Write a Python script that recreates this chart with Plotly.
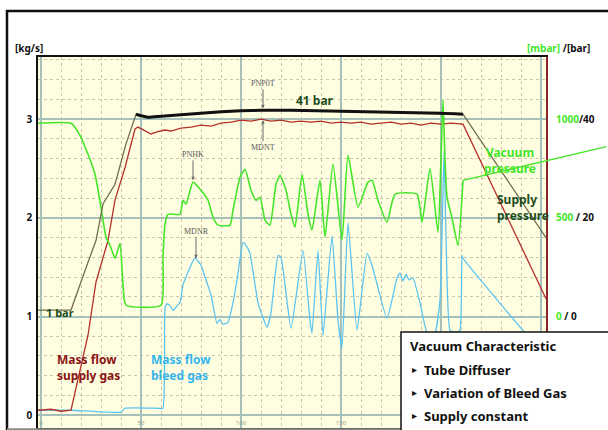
import plotly.graph_objects as go

# ---------------- data ----------------
# Supply pressure [bar]
sp_t = [-1.5, 15, 23.5, 27.5, 31, 37, 42.5, 47.5, 50, 53.5, 60, 70, 80, 90, 100, 110, 125, 150, 175, 200, 211, 252.5]
sp_bar = [1.3, 1.3, 11.0, 15.4, 22.8, 26.8, 35.0, 41.0, 40.7, 40.4, 40.6, 40.9, 41.2, 41.5, 41.7, 41.8, 41.8, 41.6, 41.4, 41.2, 41.0, 16.0]

# Mass flow supply gas [kg/s]
ms_t = [-1.5, 5, 10, 15, 23.5, 27.5, 33.5, 37, 42, 47, 48.5, 51, 55, 58, 62, 65, 70, 75, 80, 85, 90, 95,
        100, 105, 110, 115, 120, 125, 130, 135, 140, 145, 150, 155, 160, 165, 170, 175, 180, 185, 190,
        195, 200, 205, 211, 252.5]
ms_kgs = [0.05, 0.06, 0.04, 0.05, 0.81, 1.35, 1.77, 2.18, 2.51, 2.90, 2.92, 2.89, 2.85, 2.87, 2.89, 2.88,
          2.91, 2.92, 2.94, 2.93, 2.96, 2.97, 2.99, 2.98, 3.00, 2.98, 2.99, 2.97, 2.98, 2.97, 2.98, 2.96,
          2.97, 2.96, 2.97, 2.95, 2.96, 2.97, 2.95, 2.96, 2.94, 2.96, 2.95, 2.96, 2.95, 1.18]

# Vacuum pressure [mbar]
vp_t = [-1.5, 15, 19.5, 23.5, 27, 30, 32.5, 34.5, 37, 39.5, 41, 42.5, 60, 61, 62, 63.5, 69.5, 71, 72.5,
        76, 80, 83.5, 86, 88.5, 94.5, 96, 99.5, 102, 105, 107.5, 109.5, 112, 114.5, 117.5, 119.5, 122.5,
        125, 127, 130.5, 133.5, 135.5, 139.5, 142, 146, 150.5, 153.5, 158.5, 163.5, 165.5, 168.5, 173,
        177, 188, 190.5, 194.5, 198.5, 200, 201, 202, 203, 205.5, 208.5, 211]
vp_mbar = [979, 979, 918, 822, 721, 554, 402, 361, 295, 371, 159, 57, 57, 300, 468, 518, 518, 589, 569,
           681, 640, 589, 503, 463, 463, 539, 706, 746, 640, 589, 604, 488, 463, 670, 716, 640,
           518, 452, 721, 518, 438, 690, 402, 772, 387, 817, 554, 681, 690, 589, 478,
           620, 620, 478, 750, 427, 800, 1100, 800, 605, 500, 360, 690]

# Mass flow bleed gas [kg/s]
mb_t = [-1.5, 15, 40, 42, 58.5, 61, 62, 63, 64.5, 66, 67, 68.5, 69.5, 71, 73.5, 75, 77, 78.5, 80, 82,
        85, 88, 89.5, 91, 93.5, 96, 98, 101, 102.5, 104.5, 108.5, 113, 115, 118.5, 120, 125, 131,
        134.5, 135.5, 138.5, 141, 145.5, 148.5, 150.5, 153.5, 158, 163, 165.5, 173, 178, 179.5, 181,
        182.5, 184, 186, 189.5, 193, 197, 199.5, 200.5, 201.5, 202.5, 204.5, 207.5, 209.5, 210.5,
        211, 252.5]
mb_kgs = [0.05, 0.05, 0.03, 0.07, 0.07, 0.07, 1.09, 1.13, 1.11, 1.06, 1.08, 1.12, 1.14, 1.32, 1.45,
          1.52, 1.60, 1.56, 1.52, 1.40, 1.22, 0.93, 0.97, 0.92, 0.94, 1.14, 1.37, 1.75, 1.72, 1.64,
          1.14, 0.89, 1.04, 1.62, 1.60, 0.88, 1.67, 0.96, 0.83, 1.67, 0.81, 1.82, 0.96, 0.68, 1.95,
          0.86, 1.64, 1.52, 0.98, 1.39, 1.44, 1.36, 1.43, 1.37, 1.39, 1.14, 0.84, 0.84, 1.17, 1.82,
          2.68, 1.82, 0.86, 0.84, 0.86, 1.62, 1.59, 0.58]

left_ticks = [0, 1, 2, 3]
right_mbar = [0, 500, 1000]
right_bar = [0, 20, 40]
x_ticks = [0, 50, 100, 150, 200, 250]
x_ticktext = ["0", "50", "100", "150", "", ""]

# ---------------- styling helpers ----------------
X0, X1, Y0, Y1 = 38, 546, 57, 428   # plot area in pixels


def px(x, y):
    return (x - X0) / (X1 - X0), (Y1 - y) / (Y1 - Y0)


GREEN = "#45e62a"
BLUE = "#5cc4f2"
RED = "#b3302b"
DKGREEN = "#1e4d1e"
FONT = "Noto Sans"

fig = go.Figure()

fig.add_trace(go.Scatter(x=vp_t, y=vp_mbar, yaxis="y2", mode="lines",
                         line=dict(color=GREEN, width=1.6, shape="spline", smoothing=0.5)))
fig.add_trace(go.Scatter(x=mb_t, y=mb_kgs, yaxis="y", mode="lines",
                         line=dict(color=BLUE, width=1.3, shape="spline", smoothing=0.4)))
fig.add_trace(go.Scatter(x=ms_t, y=ms_kgs, yaxis="y", mode="lines",
                         line=dict(color=RED, width=1.3)))
fig.add_trace(go.Scatter(x=sp_t, y=sp_bar, yaxis="y3", mode="lines",
                         line=dict(color="#6f6f4c", width=1.3)))
fig.add_trace(go.Scatter(x=sp_t[7:21], y=sp_bar[7:21], yaxis="y3", mode="lines",
                         line=dict(color="#111111", width=3, shape="spline", smoothing=0.6)))

grid_major = "#a6c0bc"
grid_minor = "#c8c8b0"

ticktext_r = [f'<span style="color:{GREEN}">{m}</span>{" / " if m < 1000 else "/"}{b}'
              for m, b in zip(right_mbar, right_bar)]

fig.update_layout(
    width=608, height=430,
    margin=dict(l=X0, r=608 - X1, t=Y0, b=430 - Y1),
    paper_bgcolor="white",
    plot_bgcolor="#fffee0",
    showlegend=False,
    font=dict(family=FONT),
    xaxis=dict(range=[-1.5, 252.5], tickmode="array", tickvals=x_ticks, ticktext=x_ticktext,
               showgrid=True, gridcolor=grid_major, gridwidth=1.5, zeroline=False,
               minor=dict(dtick=10, tick0=0, showgrid=True, gridcolor=grid_minor,
                          griddash="dot", gridwidth=1),
               ticklabelposition="inside", ticks="",
               tickfont=dict(size=6, color="#9a9a8a"),
               showline=True, linecolor="#111", linewidth=1.5, mirror=True),
    yaxis=dict(range=[-0.13, 3.63], tick0=0, dtick=1, showgrid=True,
               gridcolor=grid_major, gridwidth=1.5, zeroline=False,
               minor=dict(dtick=0.2, tick0=0, showgrid=True, gridcolor=grid_minor,
                          griddash="dot", gridwidth=1),
               tickvals=left_ticks, ticks="",
               tickfont=dict(size=10, color="#111", family=FONT, weight="bold"),
               showline=True, linecolor="#111", linewidth=1.5, ticklabelstandoff=2),
    yaxis2=dict(range=[-565, 1315], overlaying="y", side="right", showgrid=False,
                zeroline=False, tickvals=right_mbar, ticktext=ticktext_r, ticks="",
                tickfont=dict(size=10, color="#111", family=FONT, weight="bold"),
                showline=True, linecolor="#8b2525", linewidth=2, ticklabelstandoff=6),
    yaxis3=dict(range=[-22.6, 52.6], overlaying="y", visible=False),
)

shapes = []
# outer frame
fx0, fy1 = px(7, 11)
shapes.append(dict(type="rect", xref="paper", yref="paper", x0=fx0, x1=1.3, y0=-0.2, y1=fy1,
                   line=dict(color="#111", width=2.5), layer="below"))
# bottom grey strip
_, by = px(0, 429.5)
shapes.append(dict(type="line", xref="paper", yref="paper", x0=fx0, x1=1.3, y0=by, y1=by,
                   line=dict(color="#8a8a8a", width=2.5), layer="above"))
# info box
bx0, by1 = px(401, 332)
shapes.append(dict(type="rect", xref="paper", yref="paper", x0=bx0, x1=1.3, y0=-0.2, y1=by1,
                   line=dict(color="#111", width=1.5), fillcolor="white", layer="above"))
fig.update_layout(shapes=shapes)

ann = []


def txt(text, x, y, color, size=12, anchor="left", bold=True, family=FONT, align="left"):
    xp, yp = px(x, y)
    ann.append(dict(text=f"<b>{text}</b>" if bold else text, x=xp, y=yp, xref="paper", yref="paper",
                    xanchor=anchor, yanchor="middle", showarrow=False, align=align,
                    font=dict(size=size, color=color, family=family)))


# axis unit labels
txt("[kg/s]", 29, 48, "#111", size=10, anchor="center")
txt(f'<span style="color:{GREEN}">[mbar]</span> /[bar]', 592, 48, "#111", size=10, anchor="right")

# curve labels
txt("41 bar", 294, 100, DKGREEN, size=12)
txt("1 bar", 44, 312, DKGREEN, size=11)
txt("Mass flow<br>supply gas", 55, 367, "#8b1414", size=12)
txt("Mass flow<br>bleed gas", 149, 367, "#35b6ee", size=12)
txt("Vacuum<br>pressure", 510, 160, GREEN, size=12, anchor="center", align="center")
txt("Supply<br>pressure", 495, 207, DKGREEN, size=12)

# info box
txt("Vacuum Characteristic", 408, 346, "#111", size=13)
for label, yy in [("Tube Diffuser", 370), ("Variation of Bleed Gas", 393), ("Supply constant", 416)]:
    txt("\u25b8", 414, yy - 1, "#111", size=10, anchor="center", bold=False, family="DejaVu Sans")
    txt(label, 422, yy, "#111", size=13)

# small signal tags with arrows
for name, xv, yv, ay in [("PNP0T", 111, 3.11, -25), ("MDNT", 111, 2.99, 27),
                         ("PNHK", 76, 2.38, -26), ("MDNR", 77.5, 1.59, -27)]:
    ann.append(dict(text=name, x=xv, y=yv, xref="x", yref="y", ax=0, ay=ay,
                    showarrow=True, arrowhead=2, arrowsize=0.7, arrowwidth=1, arrowcolor="#6b6b6b",
                    font=dict(size=8, color="#5a5a5a", family="Liberation Serif")))

# vacuum pressure pointer line
ann.append(dict(text="", x=vp_t[-1], y=vp_mbar[-1], xref="x", yref="y2", ax=150, ay=-34,
                showarrow=True, arrowhead=0, arrowwidth=1.4, arrowcolor=GREEN))

fig.update_layout(annotations=ann)

fig.write_html("out.html")
